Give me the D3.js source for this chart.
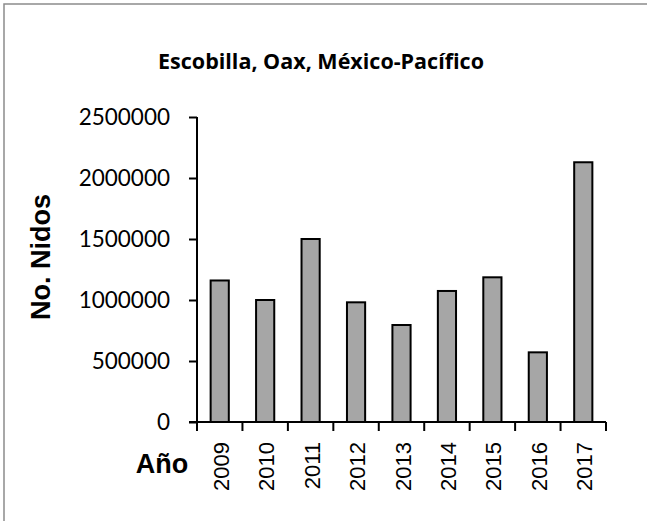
<!DOCTYPE html>
<html>
<head>
<meta charset="utf-8">
<script src="https://cdn.jsdelivr.net/npm/d3@7"></script>
<style>
  html, body { margin: 0; padding: 0; background: #fff; }
  svg { display: block; }
</style>
</head>
<body>
<svg id="chart" width="647" height="521"></svg>
<script>
const years = ["2009", "2010", "2011", "2012", "2013", "2014", "2015", "2016", "2017"];
const nests = [1160000, 1000000, 1500000, 981000, 795000, 1074000, 1186000, 571000, 2129000];
const yTicks = [0, 500000, 1000000, 1500000, 2000000, 2500000];
const title = "Escobilla, Oax, México-Pacífico";
const yTitle = "No. Nidos";
const xTitle = "Año";

const svg = d3.select("#chart");
const W = 647, H = 521;
const m = { left: 197, right: 41, top: 117, bottom: 99 };

svg.append("rect").attr("x", 4).attr("y", 4).attr("width", W + 10).attr("height", H + 10)
  .attr("fill", "#fff").attr("stroke", "#8c8c8c").attr("stroke-width", 1.5);

const x = d3.scaleBand().domain(years).range([m.left, W - m.right]).paddingInner(0.6).paddingOuter(0.3);
const y = d3.scaleLinear().domain([0, 2500000]).range([H - m.bottom, m.top]);

// bars
svg.append("g").selectAll("rect").data(years).join("rect")
  .attr("x", d => x(d))
  .attr("y", (d, i) => y(nests[i]))
  .attr("width", x.bandwidth())
  .attr("height", (d, i) => y(0) - y(nests[i]))
  .attr("fill", "#a6a6a6").attr("stroke", "#000").attr("stroke-width", 2);

// y axis
const yAxis = svg.append("g").attr("transform", `translate(${m.left},0)`)
  .call(d3.axisLeft(y).tickValues(yTicks).tickFormat(d3.format("d")).tickSize(8).tickPadding(19));
yAxis.select(".domain").attr("stroke", "#000").attr("stroke-width", 2)
  .attr("d", `M0,${m.top}V${y(0) + 9}`);
yAxis.selectAll(".tick line").attr("stroke", "#000").attr("stroke-width", 2);
yAxis.selectAll(".tick text").attr("font-family", "Lato, 'Open Sans', sans-serif")
  .attr("font-size", 22.5).attr("fill", "#000");

// x axis (ticks at band boundaries)
const step = x.step();
const bounds = years.map(d => x(d) - (step - x.bandwidth()) / 2).concat([W - m.right]);
const xAxis = svg.append("g").attr("transform", `translate(0,${y(0)})`);
xAxis.append("line").attr("x1", m.left - 8).attr("x2", W - m.right).attr("y1", 0).attr("y2", 0)
  .attr("stroke", "#000").attr("stroke-width", 2);
xAxis.selectAll("line.tk").data(bounds).join("line").attr("class", "tk")
  .attr("x1", d => d).attr("x2", d => d).attr("y1", 0).attr("y2", 9)
  .attr("stroke", "#000").attr("stroke-width", 2);
xAxis.selectAll("text").data(years).join("text")
  .attr("transform", d => `translate(${x(d) + x.bandwidth() / 2 + 9},20) rotate(-90)`)
  .attr("text-anchor", "end")
  .attr("font-family", "'Liberation Sans', Arial, sans-serif")
  .attr("font-size", 22).attr("fill", "#000")
  .text(d => d);

// titles
svg.append("text").attr("x", 321).attr("y", 69).attr("text-anchor", "middle")
  .attr("font-family", "'Open Sans', Lato, sans-serif").attr("font-weight", "bold")
  .attr("font-size", 21.5).attr("fill", "#000").text(title);

svg.append("text").attr("transform", "translate(50,257) rotate(-90)").attr("text-anchor", "middle")
  .attr("font-family", "'Liberation Sans', Arial, sans-serif").attr("font-weight", "bold")
  .attr("font-size", 27).attr("fill", "#000").text(yTitle);

svg.append("text").attr("x", 162).attr("y", 473).attr("text-anchor", "middle")
  .attr("font-family", "'Liberation Sans', Arial, sans-serif").attr("font-weight", "bold")
  .attr("font-size", 27).attr("fill", "#000").text(xTitle);
</script>
</body>
</html>
